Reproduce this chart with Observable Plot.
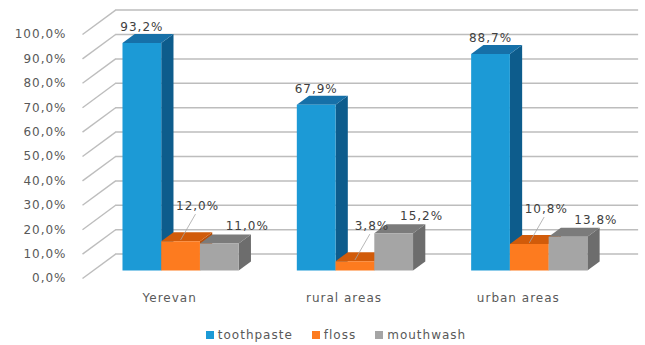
<!DOCTYPE html>
<html>
<head>
<meta charset="utf-8">
<script src="https://cdn.jsdelivr.net/npm/d3@7"></script>
<script src="https://cdn.jsdelivr.net/npm/@observablehq/plot@0.6"></script>
<style>
  body { margin: 0; background: #fff; }
  svg text { letter-spacing: 1px; }
  div[class*="-swatches-wrap"] {
    justify-content: center;
    font-family: "DejaVu Sans", sans-serif !important;
    font-size: 12px !important;
    letter-spacing: 1px;
    color: #595959;
    margin: 0 !important;
    min-height: 33px !important;
    padding-left: 46px;
  }
  div[class*="-swatches-wrap"] span[class$="-swatch"] { margin-right: 19px; }
  div[class*="-swatches-wrap"] span[class$="-swatch"] > svg { margin-right: 4px; }
</style>
</head>
<body>
<div id="chart"></div>
<script>
// ---- data ----
const categories = ["Yerevan", "rural areas", "urban areas"];
const series = ["toothpaste", "floss", "mouthwash"];
const toothpaste = [93.2, 67.9, 88.7];
const floss = [12.0, 3.8, 10.8];
const mouthwash = [11.0, 15.2, 13.8];
const yTicks = [0, 10, 20, 30, 40, 50, 60, 70, 80, 90, 100];

// ---- style ----
const frontColors = ["#1c9ad6", "#fd7b1f", "#a5a5a5"];
const topColors = ["#1670a8", "#d15b0a", "#7b7b7b"];
const sideColors = ["#0d5c8c", "#b84f0a", "#6d6d6d"];
const gridColor = "#bdbdbd";

// ---- 3D layout (data units) ----
const DX = 0.19;   // depth shift along x (group units)
const DY = 10;     // depth shift along y (percent units)
const D1 = 0.33, D2 = 0.7; // bar depth range
const PAD = 1 / 6, BW = 2 / 9;
// label offsets per series (data units): [dx, dy]
const labelShift = {toothpaste: [0, 2.9], floss: [0.0975, 10.7], mouthwash: [0.16, 3.3]};

const fmt = v => v.toFixed(1).replace(".", ",") + "%";
const valuesBySeries = [toothpaste, floss, mouthwash];

const bars = [];
categories.forEach((c, i) => series.forEach((s, j) => {
  const xl = i + PAD + j * BW;
  bars.push({category: c, series: s, i, j, value: valuesBySeries[j][i], xl, xr: xl + BW});
}));

const faces = [];
for (const face of ["side", "top", "front"]) {
  for (const b of bars) {
    const v = b.value;
    let pts, color;
    if (face === "front") { pts = [[b.xl, 0, D1], [b.xr, 0, D1], [b.xr, v, D1], [b.xl, v, D1]]; color = frontColors[b.j]; }
    if (face === "side") { pts = [[b.xr, 0, D1], [b.xr, 0, D2], [b.xr, v, D2], [b.xr, v, D1]]; color = sideColors[b.j]; }
    if (face === "top") { pts = [[b.xl, v, D1], [b.xr, v, D1], [b.xr, v, D2], [b.xl, v, D2]]; color = topColors[b.j]; }
    pts.forEach(([x, h, d]) => faces.push({id: `${face}-${b.i}-${b.j}`, color, x: x + d * DX, y: h + d * DY}));
  }
}

const anchorX = b => (b.xl + b.xr) / 2 + D1 * DX;
const anchorY = b => b.value + D2 * DY;
const labelX = b => anchorX(b) + labelShift[b.series][0];
const labelY = b => anchorY(b) + labelShift[b.series][1];
const flossBars = bars.filter(b => b.series === "floss");

const chart = Plot.plot({
  width: 645,
  height: 318,
  marginLeft: 82,
  marginRight: 40,
  marginTop: 34,
  marginBottom: 40,
  x: {domain: [0, 3], label: null},
  y: {domain: [0, 100], label: null},
  color: {type: "identity"},
  style: {fontFamily: "DejaVu Sans, sans-serif", fontSize: "12px", color: "#595959", background: "white"},
  marks: [
    Plot.ruleY(yTicks, {y: t => t + DY, x1: DX, x2: 3 + DX, stroke: gridColor, strokeWidth: 1.5}),
    Plot.link(yTicks, {x1: () => 0, y1: t => t, x2: () => DX, y2: t => t + DY, stroke: gridColor, strokeWidth: 1.4}),
    Plot.axisY({ticks: yTicks, tickSize: 0, tickPadding: 16, tickFormat: fmt, label: null}),
    Plot.axisX({ticks: categories.map((c, i) => i + 0.5), tickSize: 0, tickPadding: 15, tickFormat: t => categories[Math.floor(t)], label: null}),
    Plot.line(faces, {x: "x", y: "y", z: "id", fill: "color", stroke: "none"}),
    Plot.link(flossBars, {
      x1: anchorX, y1: b => b.value + D1 * DY + 0.5,
      x2: b => labelX(b) - 0.012, y2: b => labelY(b) - 3.3,
      stroke: "#a6a6a6", strokeWidth: 0.8
    }),
    Plot.text(bars, {x: labelX, y: labelY, text: b => fmt(b.value), fill: "#404040", fontSize: 12})
  ]
});

const legend = Plot.legend({
  color: {type: "ordinal", domain: series, range: frontColors},
  legend: "swatches",
  swatchSize: 8
});

const root = document.getElementById("chart");
root.appendChild(chart);
root.appendChild(legend);
</script>
</body>
</html>
